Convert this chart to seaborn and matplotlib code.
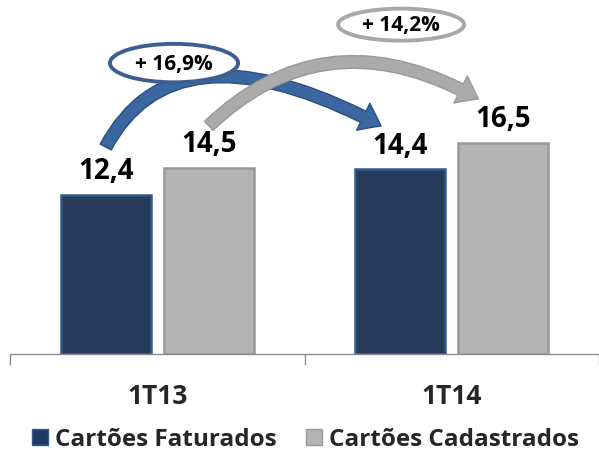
import pandas as pd
import numpy as np
import matplotlib
matplotlib.use('Agg')
import matplotlib.pyplot as plt
import seaborn as sns
from matplotlib.patches import Ellipse, FancyArrowPatch, Patch
from matplotlib.path import Path

periods = ['1T13', '1T14']
series = ['Cartões Faturados', 'Cartões Cadastrados']
faturados = [12.4, 14.4]
cadastrados = [14.5, 16.5]
growth_labels = ['+ 16,9%', '+ 14,2%']

colors = {'Cartões Faturados': '#1f3a62', 'Cartões Cadastrados': '#b4b4b4'}
edges = {'Cartões Faturados': '#34588a', 'Cartões Cadastrados': '#999999'}

df = pd.DataFrame({
    'periodo': periods * 2,
    'serie': [series[0]] * 2 + [series[1]] * 2,
    'valor': faturados + cadastrados,
})

sns.set_theme(style='white')
plt.rcParams['font.family'] = ['Open Sans', 'DejaVu Sans']
plt.rcParams['font.weight'] = 'bold'

fig = plt.figure(figsize=(5.99, 4.56), dpi=100)
ax = fig.add_axes([10 / 599, 101 / 456, 1 - 10 / 599, 355 / 456])

sns.barplot(data=df, x='periodo', y='valor', hue='serie', palette=colors,
            width=0.7, gap=0.13, legend=False, ax=ax)

for cont, s in zip(ax.containers, series):
    for bar in cont:
        bar.set_edgecolor(edges[s])
        bar.set_linewidth(1.8)
    ax.bar_label(cont, labels=[f'{v:.1f}'.replace('.', ',') for v in cont.datavalues],
                 padding=7, fontsize=20, fontweight='bold', color='black')

ax.set_xlim(-0.5, 1.48)
ax.set_ylim(0, 27.7)
ax.set_xlabel('')
ax.set_ylabel('')
ax.set_yticks([])
ax.set_xticks([0, 1])
ax.set_xticklabels(periods, fontsize=19, fontweight='bold')
ax.set_xticks([-0.5, 0.5, 1.5], minor=True)
ax.tick_params(axis='x', which='major', length=0, pad=20)
ax.tick_params(axis='x', which='minor', length=8, width=1, color='#8c8c8c',
               direction='out', bottom=True)
for side in ['top', 'right', 'left']:
    ax.spines[side].set_visible(False)
ax.spines['bottom'].set_color('#8c8c8c')
ax.spines['bottom'].set_linewidth(1)

# curved growth arrows: start above the 1T13 bar, land near the 1T14 bar
off = 0.175
arrows = [
    # start, control, end, face, edge
    ((-off, faturados[0] + 3.75), (0.06, 26.3), (1 - off - 0.065, faturados[1] + 3.4), '#3b67a0', '#2b4f80'),
    ((off, cadastrados[0] + 3.3), (0.576, 26.6), (1 + off - 0.085, cadastrados[1] + 3.4), '#ababab', '#999999'),
]
for (p0, c, p1, fc, ec) in arrows:
    path = Path([p0, c, p1], [Path.MOVETO, Path.CURVE3, Path.CURVE3])
    arr = FancyArrowPatch(path=path,
                          arrowstyle='simple,head_length=0.8,head_width=1.2,tail_width=0.5',
                          mutation_scale=18, fc=fc, ec=ec, lw=1, zorder=3)
    ax.add_patch(arr)

ellipses = [
    ((0.057, 22.7), 0.435, 3.0, '#3d5f8f', growth_labels[0]),
    ((0.828, 25.7), 0.428, 2.5, '#a8a8a8', growth_labels[1]),
]
for (c, w, h, ec, txt) in ellipses:
    ax.add_patch(Ellipse(c, w, h, fc='white', ec=ec, lw=2.8, zorder=4))
    ax.text(c[0], c[1], txt, ha='center', va='center', fontsize=15,
            fontweight='bold', color='black', zorder=5)

handles = [Patch(facecolor=colors[s], edgecolor=edges[s], label=s) for s in series]
fig.legend(handles=handles, loc='lower center', bbox_to_anchor=(0.51, -0.04), ncol=2,
           frameon=False, handlelength=0.65, handleheight=0.65, handletextpad=0.3,
           columnspacing=1.2, prop={'size': 17.5, 'weight': 'bold'})

fig.savefig('out.png', dpi=100)
